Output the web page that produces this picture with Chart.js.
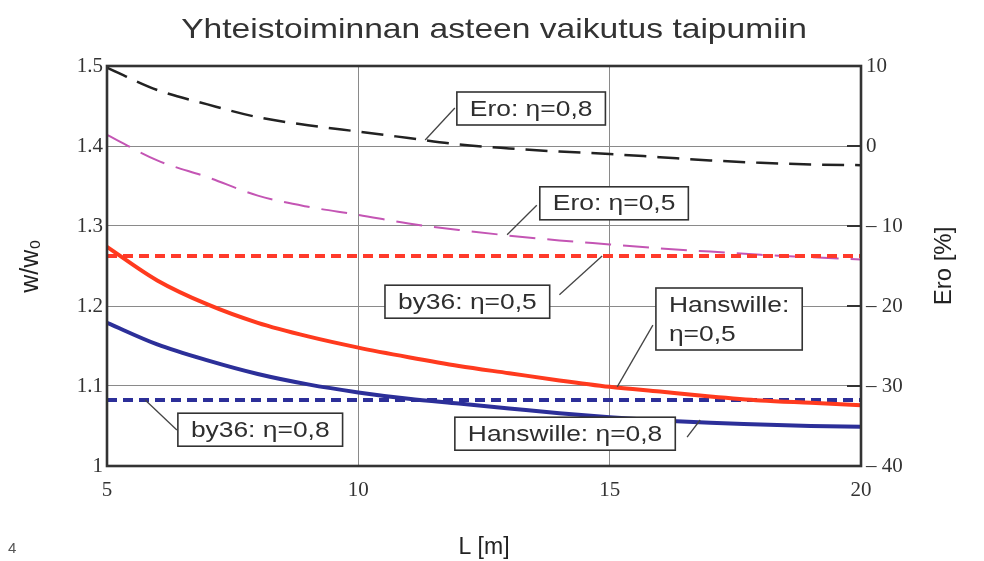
<!DOCTYPE html>
<html>
<head>
<meta charset="utf-8">
<title>Yhteistoiminnan asteen vaikutus taipumiin</title>
<script src="https://cdn.jsdelivr.net/npm/chart.js@4.4.1/dist/chart.umd.min.js"></script>
<style>
  html, body { margin: 0; padding: 0; background: #fff; }
  #wrap { width: 984px; height: 561px; position: relative; }
</style>
</head>
<body>
<div id="wrap"><canvas id="chart"></canvas></div>
<script>
// span length L [m]
const lengths = [5, 6, 7, 8, 9, 10, 11, 12, 13, 14, 15, 16, 17, 18, 19, 20];

// w/w0, left axis
const hanswille05 = [1.274, 1.232, 1.202, 1.179, 1.162, 1.148, 1.136, 1.125, 1.116, 1.107, 1.099, 1.093, 1.087, 1.082, 1.079, 1.076];
const hanswille08 = [1.179, 1.152, 1.132, 1.115, 1.102, 1.092, 1.084, 1.078, 1.072, 1.066, 1.061, 1.057, 1.054, 1.052, 1.050, 1.049];
const by36_05 = [1.2625, 1.2625, 1.2625, 1.2625, 1.2625, 1.2625, 1.2625, 1.2625, 1.2625, 1.2625, 1.2625, 1.2625, 1.2625, 1.2625, 1.2625, 1.2625];
const by36_08 = [1.0825, 1.0825, 1.0825, 1.0825, 1.0825, 1.0825, 1.0825, 1.0825, 1.0825, 1.0825, 1.0825, 1.0825, 1.0825, 1.0825, 1.0825, 1.0825];

// Ero [%], right axis
const ero08 = [9.8, 7.0, 5.2, 3.6, 2.6, 1.8, 1.0, 0.2, -0.3, -0.7, -1.0, -1.4, -1.8, -2.1, -2.3, -2.4];
const ero05 = [1.4, -1.8, -3.9, -6.2, -7.6, -8.6, -9.7, -10.5, -11.2, -11.8, -12.3, -12.8, -13.2, -13.6, -13.9, -14.2];

// axis ticks
const xTicks = [5, 10, 15, 20];
const leftTicks = [1, 1.1, 1.2, 1.3, 1.4, 1.5];
const rightTicks = [10, 0, -10, -20, -30, -40];

// callout boxes: text, box corner and leader line in data units (L, w/w0)
const callouts = [
  { lines: ['Ero: η=0,8'], x: 11.96, y: 1.4675, fromX: 11.92, fromY: 1.4475, toX: 11.33, toY: 1.4075 },
  { lines: ['Ero: η=0,5'], x: 13.61, y: 1.349, fromX: 13.55, fromY: 1.326, toX: 12.96, toY: 1.289 },
  { lines: ['by36: η=0,5'], x: 10.53, y: 1.226, fromX: 14.0, fromY: 1.214, toX: 14.85, toY: 1.2625 },
  { lines: ['Hanswille:', 'η=0,5'], x: 15.92, y: 1.2225, fromX: 15.86, fromY: 1.176, toX: 15.15, toY: 1.099 },
  { lines: ['Hanswille: η=0,8'], x: 11.92, y: 1.061, fromX: 16.54, fromY: 1.036, toX: 16.8, toY: 1.0575 },
  { lines: ['by36: η=0,8'], x: 6.41, y: 1.066, fromX: 6.39, fromY: 1.045, toX: 5.76, toY: 1.0825 }
];

const pts = arr => lengths.map((L, i) => ({ x: L, y: arr[i] }));
const SANS = '"Liberation Sans", Arial, sans-serif';
const SERIF = '"Liberation Serif", "Times New Roman", serif';

// the scanned figure is a bit wider than tall, so stretch drawn text
function wideText(ctx, text, x, y, align) {
  ctx.save();
  ctx.translate(x, y);
  ctx.scale(1.2, 1);
  ctx.textAlign = align;
  ctx.fillText(text, 0, 0);
  ctx.restore();
}

const decorations = {
  id: 'decorations',
  afterDatasetsDraw(chart) {
    const ctx = chart.ctx;
    const area = chart.chartArea;
    const xs = chart.scales.x, ys = chart.scales.y, y1 = chart.scales.y1;

    // inner tick marks on the right axis
    ctx.save();
    ctx.strokeStyle = '#333';
    ctx.lineWidth = 2;
    rightTicks.forEach(v => {
      const py = y1.getPixelForValue(v);
      ctx.beginPath();
      ctx.moveTo(area.right - 14, py);
      ctx.lineTo(area.right, py);
      ctx.stroke();
    });

    // plot frame
    ctx.lineWidth = 2.6;
    ctx.strokeStyle = '#333';
    ctx.strokeRect(area.left, area.top, area.right - area.left, area.bottom - area.top);

    // callouts
    ctx.font = '22px ' + SANS;
    ctx.textBaseline = 'middle';
    const lineH = 29, padX = 13, padY = 2;
    callouts.forEach(c => {
      ctx.strokeStyle = '#444';
      ctx.lineWidth = 1.3;
      ctx.beginPath();
      ctx.moveTo(xs.getPixelForValue(c.fromX), ys.getPixelForValue(c.fromY));
      ctx.lineTo(xs.getPixelForValue(c.toX), ys.getPixelForValue(c.toY));
      ctx.stroke();

      const w = Math.max(...c.lines.map(t => ctx.measureText(t).width)) * 1.2 + padX * 2;
      const h = c.lines.length * lineH + padY * 2;
      const bx = xs.getPixelForValue(c.x);
      const by = ys.getPixelForValue(c.y);
      ctx.fillStyle = '#fff';
      ctx.fillRect(bx, by, w, h);
      ctx.strokeStyle = '#333';
      ctx.lineWidth = 1.6;
      ctx.strokeRect(bx, by, w, h);
      ctx.fillStyle = '#2e2e2e';
      c.lines.forEach((t, i) => {
        wideText(ctx, t, bx + padX, by + padY + lineH * (i + 0.5) + 1, 'left');
      });
    });

    // title
    ctx.fillStyle = '#333';
    ctx.font = '28px ' + SANS;
    ctx.textBaseline = 'alphabetic';
    wideText(ctx, 'Yhteistoiminnan asteen vaikutus taipumiin', 494, 38, 'center');

    // right axis title, reading upwards
    ctx.save();
    ctx.translate(944, (area.top + area.bottom) / 2);
    ctx.rotate(-Math.PI / 2);
    ctx.font = '24px ' + SANS;
    ctx.fillStyle = '#222';
    ctx.textAlign = 'center';
    ctx.textBaseline = 'middle';
    ctx.fillText('Ero [%]', 0, 0);
    ctx.restore();

    // page number
    ctx.font = '15px ' + SANS;
    ctx.fillStyle = '#555';
    ctx.fillText('4', 8, 553);
    ctx.restore();
  }
};

new Chart(document.getElementById('chart'), {
  type: 'line',
  data: {
    datasets: [
      { label: 'Hanswille: η=0,5', data: pts(hanswille05), yAxisID: 'y', borderColor: '#ff3a1e', borderWidth: 4 },
      { label: 'Hanswille: η=0,8', data: pts(hanswille08), yAxisID: 'y', borderColor: '#2c2f99', borderWidth: 4 },
      { label: 'by36: η=0,5', data: pts(by36_05), yAxisID: 'y', borderColor: '#ff3a2a', borderWidth: 4, borderDash: [10, 6] },
      { label: 'by36: η=0,8', data: pts(by36_08), yAxisID: 'y', borderColor: '#2c2f99', borderWidth: 4, borderDash: [10, 6] },
      { label: 'Ero: η=0,5', data: pts(ero05), yAxisID: 'y1', borderColor: '#c455b4', borderWidth: 2, borderDash: [26, 12] },
      { label: 'Ero: η=0,8', data: pts(ero08), yAxisID: 'y1', borderColor: '#222', borderWidth: 2.5, borderDash: [22, 11] }
    ]
  },
  options: {
    responsive: true,
    maintainAspectRatio: false,
    animation: false,
    devicePixelRatio: 1,
    layout: { padding: { top: 66, left: 0, right: 0, bottom: 0 } },
    elements: {
      point: { radius: 0 },
      line: { cubicInterpolationMode: 'monotone', fill: false }
    },
    plugins: {
      legend: { display: false },
      tooltip: { enabled: false }
    },
    scales: {
      x: {
        type: 'linear',
        min: 5,
        max: 20,
        afterFit: s => { s.height = 95; },
        afterBuildTicks: s => { s.ticks = xTicks.map(v => ({ value: v })); },
        grid: { color: '#8a8a8a', lineWidth: 1, drawTicks: false },
        border: { display: false },
        ticks: { padding: 12, color: '#333', font: { family: SERIF, size: 21 } },
        title: { display: true, text: 'L [m]', color: '#222', font: { family: SANS, size: 23 }, padding: { top: 3, bottom: 0 } }
      },
      y: {
        position: 'left',
        min: 1,
        max: 1.5,
        afterFit: s => { s.width = 107; },
        afterBuildTicks: s => { s.ticks = leftTicks.map(v => ({ value: v })); },
        grid: { color: '#8a8a8a', lineWidth: 1, drawTicks: false },
        border: { display: false },
        ticks: {
          padding: 4,
          color: '#333',
          font: { family: SERIF, size: 21 },
          callback: v => (v === 1 ? '1' : v.toFixed(1))
        },
        title: { display: true, text: 'w/w₀', color: '#222', font: { family: SANS, size: 25 }, padding: { top: 16, bottom: 0 } }
      },
      y1: {
        position: 'right',
        min: -40,
        max: 10,
        afterFit: s => { s.width = 123; },
        afterBuildTicks: s => { s.ticks = rightTicks.map(v => ({ value: v })); },
        grid: { display: false, drawTicks: false },
        border: { display: false },
        ticks: {
          padding: 5,
          color: '#333',
          font: { family: SERIF, size: 21 },
          callback: v => (v < 0 ? '– ' + (-v) : String(v))
        },
        title: { display: false }
      }
    }
  },
  plugins: [decorations]
});
</script>
</body>
</html>
